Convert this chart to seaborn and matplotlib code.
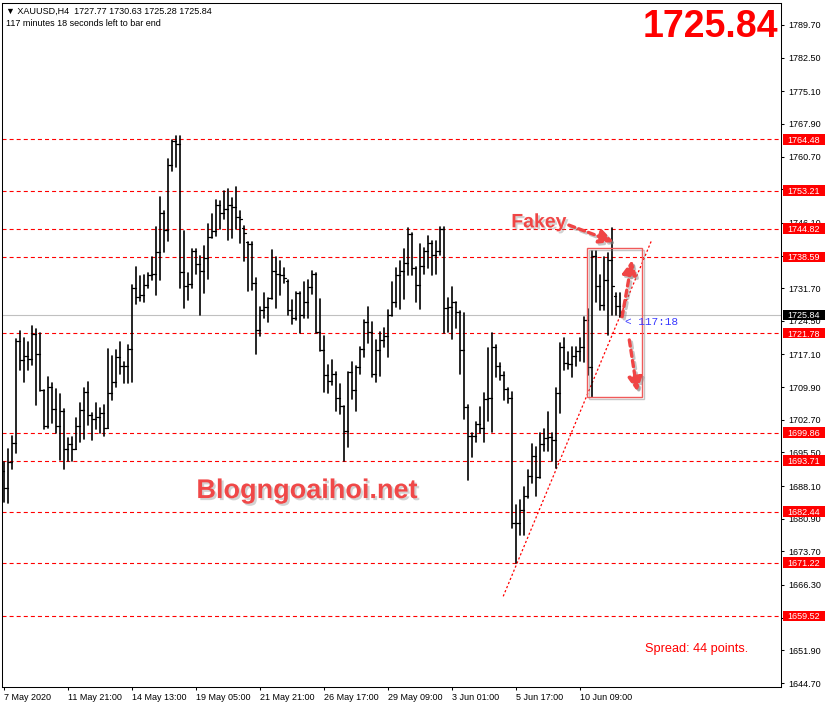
import matplotlib
matplotlib.use("Agg")
import matplotlib.pyplot as plt
import matplotlib.transforms as mtransforms
import matplotlib.patheffects as pe
from matplotlib.patches import Rectangle
import numpy as np
import pandas as pd
import seaborn as sns

# ---------------- data (XAUUSD H4 bars) ----------------
opens = [1691.5, 1687.6, 1693.5, 1697.5, 1720.1, 1715.9, 1716.8, 1716.2, 1721.6, 1717.3,
         1709.3, 1701.3, 1709.9, 1705.0, 1701.3, 1704.6, 1696.2, 1697.4, 1696.3, 1701.3,
         1704.9, 1708.8, 1703.7, 1702.8, 1703.3, 1704.1, 1700.9, 1708.5, 1711.0, 1716.5,
         1714.6, 1714.6, 1718.4, 1731.7, 1729.8, 1730.1, 1732.5, 1734.6, 1734.8, 1739.6,
         1748.2, 1744.5, 1758.9, 1764.1, 1763.4, 1735.3, 1732.2, 1732.7, 1739.9, 1737.1,
         1735.4, 1738.4, 1742.9, 1744.2, 1750.0, 1748.3, 1749.2, 1750.0, 1749.7, 1747.4,
         1745.0, 1741.8, 1741.4, 1732.8, 1722.4, 1727.0, 1727.5, 1729.5, 1735.4, 1734.8,
         1734.5, 1733.2, 1727.0, 1725.1, 1730.6, 1725.7, 1728.7, 1732.0, 1734.8, 1722.1,
         1718.0, 1712.5, 1711.3, 1712.8, 1707.6, 1705.7, 1700.2, 1713.2, 1709.3, 1714.3,
         1718.4, 1724.2, 1722.1, 1712.7, 1718.1, 1720.3, 1721.1, 1725.8, 1728.7, 1734.5,
         1735.4, 1737.2, 1743.6, 1736.1, 1732.4, 1736.6, 1739.8, 1741.6, 1739.0, 1739.8,
         1744.8, 1727.3, 1727.5, 1728.7, 1726.5, 1718.1, 1705.6, 1699.1, 1699.1, 1701.8,
         1701.0, 1707.3, 1707.4, 1718.8, 1714.6, 1712.6, 1709.5, 1707.4, 1679.9, 1680.0,
         1682.8, 1685.8, 1690.3, 1694.8, 1690.0, 1697.4, 1698.6, 1699.0, 1698.3, 1708.7,
         1718.7, 1715.2, 1715.0, 1716.8, 1717.9, 1718.7, 1724.7, 1714.4, 1738.7, 1732.2,
         1728.1, 1733.4, 1737.9, 1730.0, 1727.77]
highs = [1693.5, 1696.2, 1699.1, 1720.4, 1722.3, 1720.8, 1719.8, 1723.4, 1722.7, 1721.8,
         1709.3, 1712.1, 1710.8, 1709.5, 1708.4, 1705.1, 1698.6, 1698.9, 1703.1, 1706.5,
         1709.8, 1711.0, 1704.3, 1706.5, 1705.2, 1705.9, 1718.2, 1716.7, 1718.0, 1719.8,
         1715.5, 1719.1, 1732.4, 1736.4, 1734.4, 1734.5, 1735.0, 1738.6, 1745.1, 1751.7,
         1748.8, 1760.1, 1764.4, 1765.3, 1765.3, 1744.2, 1735.0, 1740.4, 1740.4, 1738.8,
         1741.1, 1745.8, 1748.0, 1751.1, 1750.9, 1753.1, 1753.5, 1751.5, 1754.0, 1748.7,
         1745.5, 1741.9, 1741.9, 1734.0, 1727.6, 1730.6, 1729.5, 1740.1, 1738.5, 1737.7,
         1736.2, 1733.4, 1729.1, 1730.9, 1730.9, 1733.1, 1733.6, 1735.4, 1735.0, 1729.3,
         1721.2, 1714.8, 1715.9, 1713.3, 1710.6, 1705.7, 1713.3, 1715.4, 1714.6, 1718.8,
         1724.8, 1727.6, 1724.3, 1720.3, 1722.1, 1722.9, 1726.9, 1733.1, 1736.1, 1737.7,
         1740.3, 1744.9, 1743.8, 1736.4, 1741.4, 1740.5, 1743.2, 1742.2, 1742.0, 1745.1,
         1745.1, 1729.5, 1731.9, 1728.7, 1726.6, 1726.2, 1706.0, 1699.9, 1702.3, 1705.6,
         1708.5, 1718.5, 1721.8, 1719.2, 1715.2, 1713.3, 1709.6, 1708.8, 1683.9, 1685.0,
         1688.0, 1691.6, 1697.4, 1696.8, 1699.7, 1700.6, 1704.5, 1699.7, 1709.6, 1719.7,
         1720.7, 1717.7, 1718.8, 1718.8, 1720.7, 1725.3, 1727.1, 1739.9, 1740.0, 1734.6,
         1738.5, 1739.4, 1744.9, 1730.6, 1730.63]
lows = [1684.5, 1684.3, 1691.8, 1695.3, 1713.7, 1711.0, 1713.6, 1714.8, 1705.9, 1709.0,
        1700.6, 1701.0, 1702.1, 1699.9, 1693.8, 1691.8, 1693.6, 1693.6, 1696.3, 1697.9,
        1698.5, 1701.6, 1698.2, 1700.7, 1699.8, 1699.1, 1700.8, 1707.0, 1709.9, 1712.7,
        1710.7, 1710.7, 1711.0, 1728.3, 1728.8, 1728.6, 1731.7, 1733.4, 1730.1, 1733.5,
        1739.7, 1742.0, 1757.6, 1758.5, 1731.8, 1727.4, 1729.2, 1731.8, 1734.9, 1725.7,
        1730.7, 1733.8, 1742.7, 1743.3, 1744.8, 1746.9, 1742.4, 1742.8, 1744.8, 1741.7,
        1737.8, 1731.1, 1731.2, 1717.1, 1721.2, 1725.1, 1724.3, 1729.3, 1727.4, 1730.1,
        1732.9, 1725.9, 1723.7, 1724.7, 1721.9, 1725.1, 1725.1, 1730.4, 1721.8, 1717.9,
        1708.9, 1708.5, 1710.4, 1704.7, 1704.0, 1693.6, 1696.6, 1707.2, 1704.7, 1712.7,
        1716.6, 1719.7, 1712.1, 1711.1, 1712.4, 1718.8, 1716.6, 1725.6, 1727.5, 1727.1,
        1729.3, 1734.6, 1734.6, 1728.6, 1727.1, 1734.8, 1736.1, 1734.6, 1734.8, 1739.0,
        1721.8, 1722.1, 1720.4, 1722.9, 1712.9, 1702.8, 1689.4, 1694.6, 1697.9, 1699.7,
        1697.9, 1702.5, 1700.0, 1712.2, 1711.5, 1707.1, 1706.3, 1678.8, 1671.1, 1677.3,
        1677.3, 1685.5, 1688.7, 1685.9, 1689.8, 1695.9, 1695.9, 1693.7, 1692.0, 1704.3,
        1713.7, 1714.0, 1712.1, 1714.6, 1715.7, 1715.5, 1712.6, 1707.8, 1728.7, 1726.9,
        1727.0, 1721.4, 1725.8, 1725.8, 1725.28]
closes = [1687.6, 1693.5, 1697.5, 1720.1, 1715.9, 1716.8, 1716.2, 1721.6, 1717.3, 1709.3,
          1701.3, 1709.9, 1705.0, 1701.3, 1704.6, 1696.2, 1697.4, 1696.3, 1701.3, 1704.9,
          1708.8, 1703.7, 1702.8, 1703.3, 1704.1, 1700.9, 1708.5, 1711.0, 1716.5, 1714.6,
          1714.6, 1718.4, 1731.7, 1729.8, 1730.1, 1732.5, 1734.6, 1734.8, 1739.6, 1748.2,
          1744.5, 1758.9, 1764.1, 1763.4, 1735.3, 1732.2, 1732.7, 1739.9, 1737.1, 1735.4,
          1738.4, 1742.9, 1744.2, 1750.0, 1748.3, 1749.2, 1750.0, 1749.7, 1747.4, 1746.9,
          1743.9, 1741.4, 1732.8, 1722.4, 1727.0, 1727.5, 1729.5, 1735.4, 1734.8, 1734.5,
          1734.0, 1727.0, 1725.1, 1730.6, 1725.7, 1728.7, 1732.0, 1734.8, 1722.1, 1718.0,
          1712.5, 1711.3, 1712.8, 1707.6, 1705.7, 1700.2, 1713.2, 1709.3, 1714.3, 1718.4,
          1724.2, 1722.1, 1712.7, 1718.1, 1720.3, 1721.1, 1725.8, 1728.7, 1734.5, 1735.4,
          1737.2, 1743.6, 1736.1, 1732.4, 1736.6, 1739.8, 1741.6, 1739.0, 1739.8, 1744.8,
          1727.3, 1727.5, 1728.7, 1726.5, 1718.1, 1705.6, 1699.1, 1699.1, 1701.8, 1701.0,
          1707.3, 1707.4, 1718.8, 1714.6, 1712.6, 1709.5, 1707.4, 1679.9, 1680.0, 1682.8,
          1685.8, 1690.3, 1694.8, 1690.0, 1697.4, 1698.6, 1699.0, 1698.3, 1708.7, 1718.7,
          1715.2, 1715.0, 1716.8, 1717.9, 1718.7, 1724.7, 1714.4, 1738.7, 1732.2, 1728.1,
          1733.4, 1737.9, 1732.2, 1727.77, 1725.84]

levels = [1764.48, 1753.21, 1744.82, 1738.59, 1721.78, 1699.86, 1693.71, 1682.44, 1671.22, 1659.52]
bid = 1725.84
ytick_vals = [1789.70, 1782.50, 1775.10, 1767.90, 1760.70, 1753.50, 1746.10, 1738.90, 1731.70,
              1724.50, 1717.10, 1709.90, 1702.70, 1695.50, 1688.10, 1680.90, 1673.70, 1666.30,
              1659.10, 1651.90, 1644.70]
xtick_pos = [0, 16, 32, 48, 64, 80, 96, 112, 128, 144]
xtick_labels = ["7 May 2020", "11 May 21:00", "14 May 13:00", "19 May 05:00", "21 May 21:00",
                "26 May 17:00", "29 May 09:00", "3 Jun 01:00", "5 Jun 17:00", "10 Jun 09:00"]

# annotations (bar index, price)
trend_x = [124.8, 161.8]
trend_y = [1663.8, 1742.1]
box_x = [145.7, 159.5]
box_y = [1707.7, 1740.6]
fakey_text = (133.7, 1746.1)
fakey_arrow = [(141.2, 1745.6), (152.4, 1741.9)]
up_arrow = [(154.5, 1725.4), (157.0, 1737.9)]
down_arrow = [(156.3, 1720.3), (158.3, 1708.9)]
timer_pos = (155.3, 1724.3)
spread_pos = (160.3, 1652.2)
watermark_pos = (75.8, 1687.0)

header1 = "\u25bc XAUUSD,H4  1727.77 1730.63 1725.28 1725.84"
header2 = "117 minutes 18 seconds left to bar end"

# ---------------- style ----------------
sns.set_theme(style="white")
plt.rcParams["font.family"] = ["Liberation Sans", "DejaVu Sans"]
plt.rcParams["lines.scale_dashes"] = False
plt.rcParams["axes.linewidth"] = 0.75

W, H = 828, 710
fig = plt.figure(figsize=(W / 100, H / 100), dpi=100)
fig.patch.set_facecolor("white")
ax_l, ax_r, ax_t, ax_b = 2.5, 781.0, 2.7, 687.0
ax = fig.add_axes([ax_l / W, (H - ax_b) / H, (ax_r - ax_l) / W, (ax_b - ax_t) / H])
ax.set_facecolor("white")

n = len(closes)
idx = np.arange(n)

hl = pd.DataFrame({"x": np.repeat(idx, 2).astype(float),
                   "price": np.ravel(np.column_stack([lows, highs])),
                   "unit": np.repeat(idx, 2)})
ot = pd.DataFrame({"x": np.ravel(np.column_stack([idx - 0.45, idx])),
                   "price": np.repeat(opens, 2),
                   "unit": np.repeat(idx, 2)})
ct = pd.DataFrame({"x": np.ravel(np.column_stack([idx, idx + 0.45])),
                   "price": np.repeat(closes, 2),
                   "unit": np.repeat(idx, 2)})

# level lines and bid line (under bars)
for lv in levels:
    ax.axhline(lv, color="#ff0000", lw=0.8, dashes=(2.9, 2.2), zorder=1)
ax.axhline(bid, color="#c0c0c0", lw=0.8, zorder=1)

sns.lineplot(data=hl, x="x", y="price", units="unit", estimator=None, sort=False,
             color="black", lw=1.2, ax=ax, zorder=3)
sns.lineplot(data=ot, x="x", y="price", units="unit", estimator=None, sort=False,
             color="black", lw=0.9, ax=ax, zorder=3)
sns.lineplot(data=ct, x="x", y="price", units="unit", estimator=None, sort=False,
             color="black", lw=0.9, ax=ax, zorder=3)

ax.set_xlim(-0.3, 194.2)
ax.set_ylim(1643.82, 1794.61)
ax.set_xlabel("")
ax.set_ylabel("")
for s in ax.spines.values():
    s.set_color("black")
    s.set_linewidth(0.75)

ax.yaxis.tick_right()
ax.set_yticks(ytick_vals)
ax.set_yticklabels([f"{v:.2f}" for v in ytick_vals])
ax.tick_params(axis="y", direction="out", length=2.2, width=0.75, pad=3.0,
               labelsize=6.5, colors="black", right=True, left=False)
ax.set_xticks(xtick_pos)
ax.set_xticklabels(xtick_labels)
ax.tick_params(axis="x", direction="out", length=2.2, width=0.75, pad=1.8,
               labelsize=6.5, colors="black", bottom=True)
for lab in ax.get_xticklabels():
    lab.set_ha("left")

# price boxes on the right scale
trans = mtransforms.blended_transform_factory(ax.transAxes, ax.transData)
bx0 = (783 - ax_l) / (ax_r - ax_l)
bx1 = (824.5 - ax_l) / (ax_r - ax_l)
bh = 10.5 * (1794.61 - 1643.82) / (ax_b - ax_t)
for lv, fc in [(v, "#ff0000") for v in levels] + [(bid, "black")]:
    ax.add_patch(Rectangle((bx0, lv - bh / 2), bx1 - bx0, bh, transform=trans,
                           facecolor=fc, edgecolor="none", clip_on=False, zorder=10))
    ax.text((bx0 + bx1) / 2, lv, f"{lv:.2f}", transform=trans, ha="center",
            va="center_baseline", color="white", fontsize=6.5, clip_on=False, zorder=11)

# trend line
ax.plot(trend_x, trend_y, color="#ff0000", lw=0.9, dashes=(1.6, 1.6), zorder=2)

# rectangle
shadow = [pe.SimpleLineShadow(offset=(1.5, -1.5), shadow_color="gray", alpha=0.45), pe.Normal()]
rect = Rectangle((box_x[0], box_y[0]), box_x[1] - box_x[0], box_y[1] - box_y[0],
                 fill=False, edgecolor="#f05a5a", lw=1.0, zorder=4)
rect.set_path_effects(shadow)
ax.add_patch(rect)

red_ann = "#f04545"
arrow_kw = dict(arrowstyle="-|>,head_length=0.7,head_width=0.35", color=red_ann, lw=2.4,
                linestyle=(0, (4.5, 3.0)), shrinkA=0, shrinkB=0)
for tail, tip in [fakey_arrow, up_arrow, down_arrow]:
    a = ax.annotate("", xy=tip, xytext=tail, arrowprops=arrow_kw, zorder=6)
    a.arrow_patch.set_path_effects(shadow)

txt_shadow = [pe.withSimplePatchShadow(offset=(1.5, -1.5), shadow_rgbFace="gray", alpha=0.35)]
ax.text(*fakey_text, "Fakey", color=red_ann, fontsize=14, fontweight="bold", ha="center",
        va="center", path_effects=txt_shadow, zorder=6)
ax.text(*watermark_pos, "Blogngoaihoi.net", color="#f04848", fontsize=19.5, fontweight="bold",
        ha="center", va="center", path_effects=txt_shadow, zorder=6)
ax.text(*timer_pos, "< 117:18", color="#3a3aff", fontsize=8, family="Liberation Mono",
        ha="left", va="center", zorder=6)
ax.text(*spread_pos, "Spread: 44 points.", color="#ff0000", fontsize=9.2, ha="left",
        va="center", zorder=6)

# header texts
fig.text(6 / W, 1 - 11 / H, header1, fontsize=6.5, color="black", ha="left", va="center",
         family=["Liberation Sans", "DejaVu Sans"])
fig.text(6 / W, 1 - 24 / H, header2, fontsize=6.5, color="black", ha="left", va="center")
fig.text(778 / W, 1 - 27 / H, f"{bid:.2f}", fontsize=27, fontweight="bold", color="#ff0000",
         ha="right", va="center")

fig.savefig("out.png", dpi=100, facecolor="white")
